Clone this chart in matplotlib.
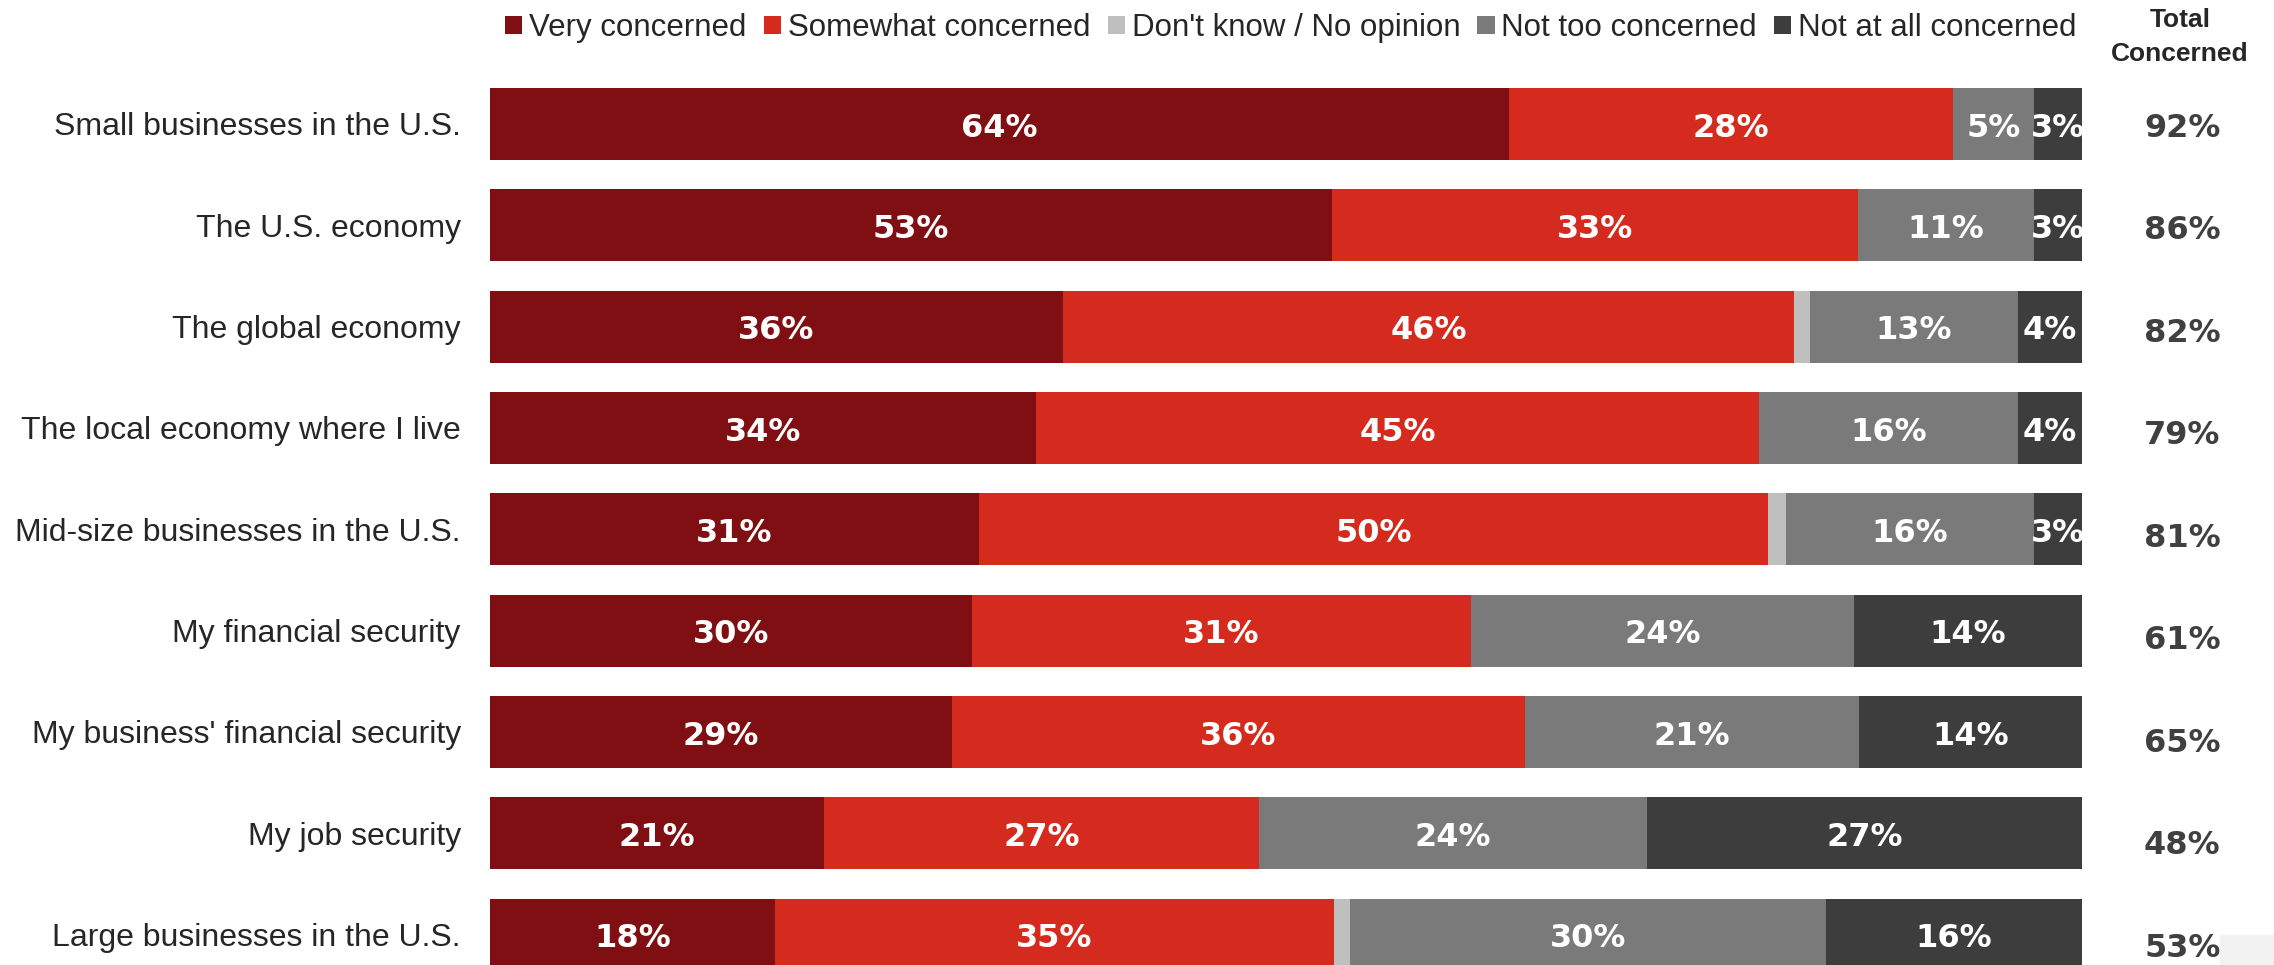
import matplotlib
matplotlib.use("Agg")
import matplotlib.pyplot as plt
from matplotlib import font_manager
from matplotlib.patches import Rectangle

# Datos (porcentajes)
categorias = [
    "Small businesses in the U.S.",
    "The U.S. economy",
    "The global economy",
    "The local economy where I live",
    "Mid-size businesses in the U.S.",
    "My financial security",
    "My business' financial security",
    "My job security",
    "Large businesses in the U.S.",
]
muy_preocupado = [64.0, 52.9, 36.0, 34.3, 30.7, 30.3, 29.0, 21.0, 17.9]
algo_preocupado = [27.9, 33.0, 45.9, 45.4, 49.6, 31.3, 36.0, 27.3, 35.1]
no_sabe = [0.0, 0.0, 1.0, 0.0, 1.1, 0.0, 0.0, 0.0, 1.0]
poco_preocupado = [5.1, 11.1, 13.1, 16.3, 15.6, 24.1, 21.0, 24.4, 29.9]
nada_preocupado = [3.0, 3.0, 4.0, 4.0, 3.0, 14.3, 14.0, 27.3, 16.1]
total_preocupado = [92, 86, 82, 79, 81, 61, 65, 48, 53]

series = ["Very concerned", "Somewhat concerned", "Don't know / No opinion",
          "Not too concerned", "Not at all concerned"]
colores = ["#7f0f12", "#d52b1e", "#bfbfbf", "#7a7a7a", "#3d3d3d"]


def fuente_estrecha():
    """Devuelve una familia estrecha si esta instalada."""
    nombres = {f.name for f in font_manager.fontManager.ttflist}
    if "Liberation Sans Narrow" in nombres:
        return "Liberation Sans Narrow", 23
    return "Liberation Sans", 19


def main():
    fig = plt.figure(figsize=(22.74, 9.65), dpi=100)
    ax = fig.add_axes([490 / 2274, 0, 1592 / 2274, 1])

    valores = [muy_preocupado, algo_preocupado, no_sabe, poco_preocupado, nada_preocupado]
    filas = list(range(len(categorias)))
    izquierda = [0.0] * len(categorias)
    barras = []
    for nombre, datos, color in zip(series, valores, colores):
        b = ax.barh(filas, datos, left=izquierda, height=0.71, color=color,
                    edgecolor="none", label=nombre)
        barras.append(b)
        # etiquetas dentro de cada segmento
        for i, v in enumerate(datos):
            if v >= 2:
                ax.text(izquierda[i] + v / 2, i + 0.04, f"{v:.0f}%", ha="center", va="center",
                        color="white", fontsize=23, fontweight="bold",
                        family="DejaVu Sans", clip_on=True)
        izquierda = [a + v for a, v in zip(izquierda, datos)]

    ax.set_xlim(0, 100)
    ax.set_ylim(8.2996, -1.2237)
    ax.set_yticks(filas)
    ax.set_yticklabels(categorias, fontsize=23, family="Liberation Sans", color="#262626")
    ax.tick_params(axis="y", length=0, pad=21)
    ax.set_xticks([])
    for s in ax.spines.values():
        s.set_visible(False)

    # columna de total preocupado
    for i, t in enumerate(total_preocupado):
        ax.text(106.3, i + 0.04 + 0.012 * i, f"{t}%", ha="center", va="center",
                color="#404040", fontsize=23, fontweight="bold", family="DejaVu Sans",
                clip_on=False)

    familia, tam = fuente_estrecha()
    fig.text(2180 / 2274, 1 - 20 / 965, "Total", ha="center", va="center",
             fontsize=tam, fontweight="bold", family=familia, color="#262626")
    fig.text(2180 / 2274, 1 - 54 / 965, "Concerned", ha="center", va="center",
             fontsize=tam, fontweight="bold", family=familia, color="#262626")

    fig.legend(handles=barras, loc="center", bbox_to_anchor=(1291 / 2274, 1 - 28 / 965),
               ncol=5, frameon=False, prop={"family": "Liberation Sans", "size": 22.5},
               handlelength=0.55, handleheight=0.55, handletextpad=0.22,
               columnspacing=0.55, borderpad=0, borderaxespad=0, labelcolor="#262626")

    # recuadro gris claro en la esquina inferior derecha
    fig.patches.append(Rectangle((2220 / 2274, 0), 54 / 2274, 30 / 965,
                                 transform=fig.transFigure, color="#f2f2f2", zorder=0))

    fig.savefig("out.png", dpi=100)


if __name__ == "__main__":
    main()
